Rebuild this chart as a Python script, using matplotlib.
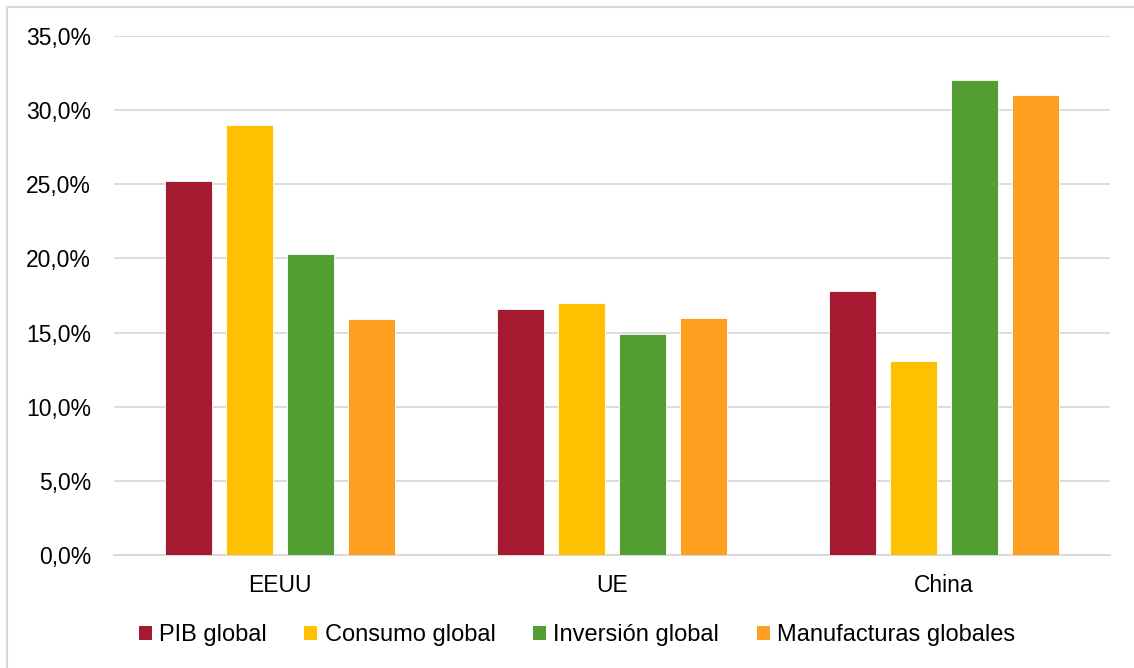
import numpy as np
import matplotlib.pyplot as plt
from matplotlib.patches import Rectangle, Patch
from matplotlib.ticker import FuncFormatter

plt.rcParams['font.family'] = ['Liberation Sans', 'DejaVu Sans']

regions = ["EEUU", "UE", "China"]
series = ["PIB global", "Consumo global", "Inversión global", "Manufacturas globales"]
pib = [25.2, 16.6, 17.8]
consumo = [29.0, 17.0, 13.1]
inversion = [20.3, 14.9, 32.0]
manufacturas = [15.9, 16.0, 31.0]
colors = ["#A51A30", "#FFC000", "#529E33", "#FF9F1F"]

values = [pib, consumo, inversion, manufacturas]

fig = plt.figure(figsize=(11.34, 6.68), dpi=100)
ax = fig.add_axes([114 / 1134, 1 - 555 / 668, (1110 - 114) / 1134, (555 - 36) / 668])

x = np.arange(len(regions))
width = 0.142
step = 0.184
for i, (vals, c) in enumerate(zip(values, colors)):
    ax.bar(x + (i - 1.5) * step, vals, width, color=c, edgecolor='white',
           linewidth=0.6, label=series[i], zorder=3)

ax.set_xlim(-0.5, 2.5)
ax.set_ylim(0, 35)
ax.set_yticks(np.arange(0, 36, 5))
ax.yaxis.set_major_formatter(FuncFormatter(lambda v, p: f"{v:.1f}".replace('.', ',') + '%'))
ax.set_xticks(x)
ax.set_xticklabels(regions)
ax.tick_params(axis='both', length=0, labelsize=16.5, colors='black')
ax.tick_params(axis='y', pad=16.5)
ax.tick_params(axis='x', pad=14)
ax.grid(axis='y', color='#D9D9D9', linewidth=1.3, zorder=0)
for s in ['top', 'right', 'left']:
    ax.spines[s].set_visible(False)
ax.spines['bottom'].set_color('#D9D9D9')
ax.spines['bottom'].set_linewidth(1.5)

handles = [Patch(facecolor=c, edgecolor='none') for c in colors]
fig.legend(handles, series, loc='center', bbox_to_anchor=(577 / 1134, 1 - 635 / 668),
           ncol=4, frameon=False, fontsize=17, handlelength=0.55, handleheight=0.55,
           handletextpad=0.3, columnspacing=1.6, borderaxespad=0)

# outer chart border
fig.patches.append(Rectangle((7 / 1134, -0.1), 1.2, 1.1 - 7 / 668, transform=fig.transFigure,
                             fill=False, edgecolor='#D9D9D9', linewidth=1.5))

fig.savefig('out.png', dpi=100)
